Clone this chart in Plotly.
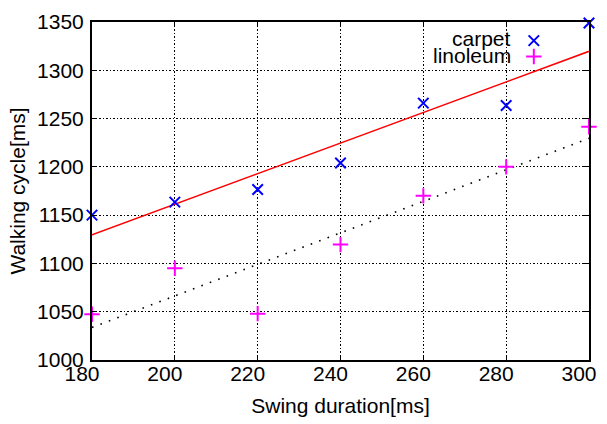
import numpy as np
import plotly.graph_objects as go

# Swing duration (ms) and measured walking cycle (ms) on two floor types
swing_ms = [180, 200, 220, 240, 260, 280, 300]
carpet_ms = [1150, 1163.5, 1176.5, 1204, 1266, 1263.5, 1349]
linoleum_ms = [1047.5, 1095, 1048, 1119.5, 1170, 1200, 1241.5]

x_ticks = [180, 200, 220, 240, 260, 280, 300]
y_ticks = [1000, 1050, 1100, 1150, 1200, 1250, 1300, 1350]

FONT = "Liberation Sans, Arial, Helvetica, sans-serif"
BLUE = "#0000ff"
MAGENTA = "#ff00ff"

# least-squares straight lines through each series
xs = np.array(swing_ms, dtype=float)
fit_x = np.array([180.0, 300.0])
c_slope, c_int = np.polyfit(xs, np.array(carpet_ms), 1)
l_slope, l_int = np.polyfit(xs, np.array(linoleum_ms), 1)

fig = go.Figure()

fig.add_trace(go.Scatter(
    x=fit_x, y=c_slope * fit_x + c_int, mode="lines",
    line=dict(color="#ff0000", width=1.6), showlegend=False, hoverinfo="skip"))
fig.add_trace(go.Scatter(
    x=fit_x, y=l_slope * fit_x + l_int, mode="lines",
    line=dict(color="#000000", width=1.6, dash="1.6px,7.4px"),
    showlegend=False, hoverinfo="skip"))

X_MARK = dict(symbol="x-thin", size=10.5, line=dict(color=BLUE, width=2))
PLUS_MARK = dict(symbol="cross-thin", size=11, line=dict(color=MAGENTA, width=2))

fig.add_trace(go.Scatter(
    x=swing_ms, y=carpet_ms, mode="markers", name="carpet",
    marker=X_MARK, cliponaxis=False, showlegend=False))
fig.add_trace(go.Scatter(
    x=swing_ms, y=linoleum_ms, mode="markers", name="linoleum",
    marker=PLUS_MARK, cliponaxis=False, showlegend=False))

# key symbols, placed in a unit overlay frame
fig.add_trace(go.Scatter(
    x=[0.889], y=[0.945], xaxis="x2", yaxis="y2", mode="markers",
    marker=X_MARK, cliponaxis=False, showlegend=False, hoverinfo="skip"))
fig.add_trace(go.Scatter(
    x=[0.889], y=[0.898], xaxis="x2", yaxis="y2", mode="markers",
    marker=PLUS_MARK, cliponaxis=False, showlegend=False, hoverinfo="skip"))

for label, yk in (("carpet", 0.952), ("linoleum", 0.900)):
    fig.add_annotation(
        text=label, xref="paper", yref="paper", x=0.848, y=yk,
        xanchor="right", yanchor="middle", showarrow=False,
        font=dict(family=FONT, size=21, color="black"))

axis_common = dict(
    showline=True, linecolor="black", linewidth=2, mirror="allticks",
    ticks="inside", ticklen=5, tickwidth=1, tickcolor="black",
    showgrid=True, gridcolor="black", gridwidth=1, griddash="1.5px,2px",
    zeroline=False, tickfont=dict(family=FONT, size=21, color="black"),
)

fig.update_layout(
    width=607, height=424,
    margin=dict(l=92, r=10, t=19, b=60),
    paper_bgcolor="white", plot_bgcolor="white",
    font=dict(family=FONT, size=21, color="black"),
    xaxis=dict(
        range=[180, 300], tickvals=x_ticks, ticktext=[str(v) for v in x_ticks],
        ticklabelshift=-10, ticklabelstandoff=-6,
        title=dict(text="Swing duration[ms]", standoff=14,
                   font=dict(family=FONT, size=21)),
        **axis_common),
    yaxis=dict(
        range=[1000, 1350], tickvals=y_ticks, ticktext=[str(v) for v in y_ticks],
        ticklabelstandoff=2,
        title=dict(text="Walking cycle[ms]", standoff=6,
                   font=dict(family=FONT, size=21)),
        **axis_common),
    xaxis2=dict(range=[0, 1], overlaying="x", visible=False, fixedrange=True),
    yaxis2=dict(range=[0, 1], overlaying="y", visible=False, fixedrange=True),
)

fig.write_html("out.html")
